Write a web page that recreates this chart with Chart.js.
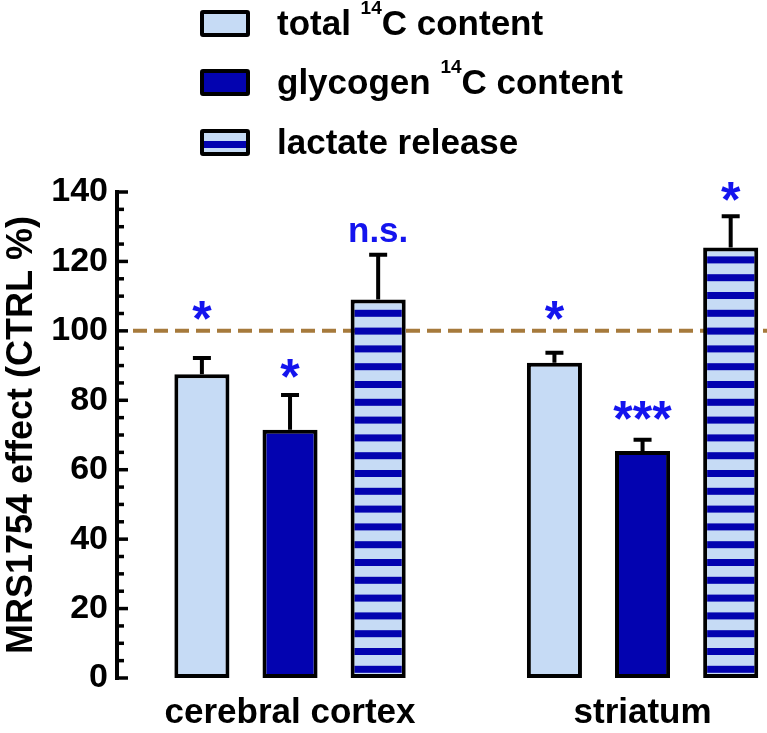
<!DOCTYPE html>
<html>
<head>
<meta charset="utf-8">
<script src="https://cdn.jsdelivr.net/npm/chart.js@4.4.0/dist/chart.umd.min.js"></script>
<style>
  html, body { margin: 0; padding: 0; background: #fff; overflow: hidden; }
  #wrap { position: relative; width: 767px; height: 733px; }
  #legend { position: absolute; left: 200px; top: 0; font: bold 35px "Liberation Sans", Arial, sans-serif; color: #000; }
  .row { position: absolute; left: 0; height: 30px; display: flex; align-items: center; white-space: nowrap; }
  .box { width: 42px; height: 19px; border: 4px solid #000; border-radius: 3px; margin-right: 27px; flex: none; }
  .sup { font-size: 19px; position: relative; top: -15px; }
</style>
</head>
<body>
<div id="wrap">
  <canvas id="chart" width="767" height="733"></canvas>
  <div id="legend">
    <div class="row" style="top:8px"><div class="box" style="background:#c6dbf5"></div>total&nbsp;<span class="sup">14</span>C content</div>
    <div class="row" style="top:67px"><div class="box" style="background:#0303b0"></div>glycogen&nbsp;<span class="sup">14</span>C content</div>
    <div class="row" style="top:127px"><div class="box" style="background:linear-gradient(to bottom,#c6dbf5 0 40%,#0303b0 40% 80%,#c6dbf5 80% 100%)"></div>lactate release</div>
  </div>
</div>
<script>
const categories = ['cerebral cortex', 'striatum'];

const totalValues = [87.5, 90.8];
const totalErrors = [4.7, 2.9];
const totalMarks = ['*', '*'];
const totalMarkY = [106, 106];

const glycogenValues = [71.5, 65.4];
const glycogenErrors = [10, 3.2];
const glycogenMarks = ['*', '***'];
const glycogenMarkY = [89.3, 77.2];

const lactateValues = [109, 124];
const lactateErrors = [12.9, 9];
const lactateMarks = ['n.s.', '*'];
const lactateMarkY = [128.4, 140.2];

const controlLevel = 100;

const lightBlue = '#c6dbf5';
const darkBlue = '#0303b0';
const markBlue = '#1414ee';
const FONT = '"Liberation Sans", Arial, sans-serif';

const ctx = document.getElementById('chart').getContext('2d');

// horizontal stripes for the lactate bars
function stripePattern() {
  const c = document.createElement('canvas');
  c.width = 4; c.height = 178;
  const g = c.getContext('2d');
  g.fillStyle = lightBlue;
  g.fillRect(0, 0, 4, 178);
  g.fillStyle = darkBlue;
  for (let k = 0; k < 10; k++) g.fillRect(0, 10.7 + 17.8 * k - 3.5, 4, 7);
  return ctx.createPattern(c, 'repeat');
}

function points(values) {
  return values.map((v, i) => ({ x: i, y: v }));
}

const graphPlugin = {
  id: 'graph',
  beforeDatasetsDraw(chart) {
    const { ctx, chartArea, scales: { y } } = chart;
    const py = y.getPixelForValue(controlLevel);
    ctx.save();
    ctx.strokeStyle = '#a67a3c';
    ctx.lineWidth = 4;
    ctx.setLineDash([14, 7]);
    ctx.beginPath();
    ctx.moveTo(chartArea.left + 15, py);
    ctx.lineTo(chartArea.right, py);
    ctx.stroke();
    ctx.restore();
  },
  afterDatasetsDraw(chart) {
    const { ctx, chartArea, scales: { y } } = chart;
    ctx.save();
    ctx.strokeStyle = '#000';
    ctx.lineWidth = 4;

    // y axis with inward ticks
    const ax = chartArea.left - 1;
    ctx.lineCap = 'square';
    ctx.beginPath();
    ctx.moveTo(ax, y.getPixelForValue(0));
    ctx.lineTo(ax, y.getPixelForValue(140));
    ctx.stroke();
    ctx.lineCap = 'butt';
    ctx.lineWidth = 3.5;
    for (let v = 0; v <= 140; v += 5) {
      const ty = y.getPixelForValue(v);
      ctx.beginPath();
      ctx.moveTo(ax, ty);
      ctx.lineTo(ax + (v % 20 === 0 ? 11 : 7), ty);
      ctx.stroke();
    }

    // error bars and significance marks
    chart.data.datasets.forEach((ds, di) => {
      const meta = chart.getDatasetMeta(di);
      meta.data.forEach((bar, i) => {
        const top = y.getPixelForValue(ds.data[i].y + ds.errors[i]);
        ctx.strokeStyle = '#000';
        ctx.lineWidth = 4;
        ctx.beginPath();
        ctx.moveTo(bar.x, bar.y);
        ctx.lineTo(bar.x, top);
        ctx.moveTo(bar.x - 9, top);
        ctx.lineTo(bar.x + 9, top);
        ctx.stroke();

        const text = ds.marks[i];
        ctx.font = 'bold ' + (text === 'n.s.' ? 35 : 50) + 'px ' + FONT;
        ctx.fillStyle = markBlue;
        ctx.textAlign = 'center';
        ctx.textBaseline = 'alphabetic';
        const m = ctx.measureText(text);
        const cy = y.getPixelForValue(ds.markY[i]);
        ctx.fillText(text, bar.x, cy + (m.actualBoundingBoxAscent - m.actualBoundingBoxDescent) / 2);
      });
    });
    ctx.restore();
  }
};

const barStyle = {
  borderColor: '#000',
  borderWidth: 4,
  borderSkipped: false,
  categoryPercentage: 0.75,
  barPercentage: 0.625
};

new Chart(ctx, {
  type: 'bar',
  data: {
    datasets: [
      { ...barStyle, label: 'total 14C content', data: points(totalValues), errors: totalErrors,
        marks: totalMarks, markY: totalMarkY, backgroundColor: lightBlue },
      { ...barStyle, label: 'glycogen 14C content', data: points(glycogenValues), errors: glycogenErrors,
        marks: glycogenMarks, markY: glycogenMarkY, backgroundColor: darkBlue },
      { ...barStyle, label: 'lactate release', data: points(lactateValues), errors: lactateErrors,
        marks: lactateMarks, markY: lactateMarkY, backgroundColor: stripePattern() }
    ]
  },
  options: {
    responsive: false,
    animation: false,
    devicePixelRatio: 1,
    layout: { padding: { top: 192, right: 0, left: 0, bottom: 0 } },
    plugins: { legend: { display: false }, tooltip: { enabled: false } },
    scales: {
      x: {
        type: 'linear',
        offset: false,
        min: -0.488,
        max: 1.353,
        grid: { display: false, drawTicks: false, offset: false },
        border: { display: false },
        afterBuildTicks: s => { s.ticks = categories.map((c, i) => ({ value: i })); },
        afterFit: s => { s.height = 55; },
        ticks: {
          callback: v => categories[v],
          color: '#000',
          font: { family: FONT, size: 35, weight: 'bold' },
          padding: 14,
          maxRotation: 0,
          autoSkip: false
        }
      },
      y: {
        min: 0,
        max: 140,
        grid: { display: false, drawTicks: false },
        border: { display: false },
        afterFit: s => { s.width = 118; },
        ticks: {
          stepSize: 20,
          color: '#000',
          font: { family: FONT, size: 34, weight: 'bold' },
          padding: 10
        },
        title: {
          display: true,
          text: 'MRS1754 effect (CTRL %)',
          color: '#000',
          font: { family: FONT, size: 36, weight: 'bold' },
          padding: 0
        }
      }
    }
  },
  plugins: [graphPlugin]
});
</script>
</body>
</html>
